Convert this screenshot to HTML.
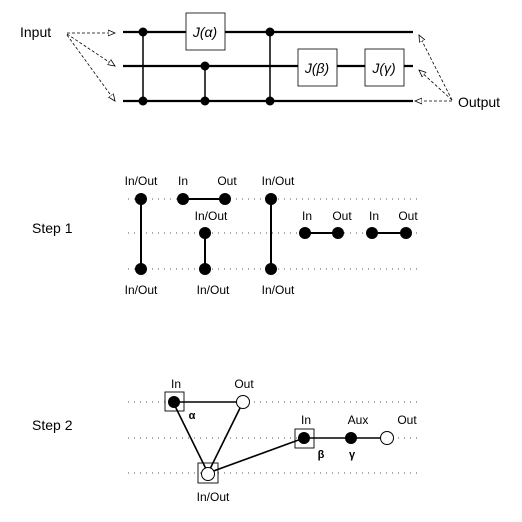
<!DOCTYPE html>
<html><head><style>body{margin:0;background:#fff}svg{display:block}</style></head><body>
<svg width="522" height="522" viewBox="0 0 522 522" xmlns="http://www.w3.org/2000/svg" font-family="Liberation Sans, sans-serif">
<defs><marker id="ar" markerWidth="8" markerHeight="8" refX="7" refY="4" orient="auto" markerUnits="userSpaceOnUse"><path d="M0,1 L7,4 L0,7 Z" fill="#fff" stroke="#000" stroke-width="0.8"/></marker></defs>
<g stroke="#000" stroke-width="2.2">
<line x1="123" y1="32" x2="413" y2="32"/><line x1="123" y1="66" x2="413" y2="66"/><line x1="123" y1="101" x2="413" y2="101"/>
<line x1="143" y1="32" x2="143" y2="101" stroke-width="1.5"/><line x1="205" y1="66" x2="205" y2="101" stroke-width="1.5"/><line x1="270" y1="32" x2="270" y2="101" stroke-width="1.5"/>
</g>
<g fill="#000"><circle cx="143" cy="32" r="4.5"/><circle cx="143" cy="101" r="4.5"/><circle cx="205" cy="66" r="4.5"/><circle cx="205" cy="101" r="4.5"/><circle cx="270" cy="32" r="4.5"/><circle cx="270" cy="101" r="4.5"/></g>
<g fill="#fff" stroke="#000" stroke-width="0.8"><rect x="186" y="13" width="39" height="37"/><rect x="298" y="49" width="39" height="37"/><rect x="365" y="49" width="39" height="37"/></g>
<g font-size="14" font-style="italic" text-anchor="middle"><text x="205" y="37">J(α)</text><text x="317" y="73">J(β)</text><text x="384" y="73">J(γ)</text></g>
<text x="20" y="37" font-size="14">Input</text><text x="458" y="107" font-size="14">Output</text>
<g stroke="#000" stroke-width="0.8" stroke-dasharray="3,2" fill="none" marker-end="url(#ar)">
<line x1="67" y1="33" x2="115" y2="33"/><line x1="67" y1="34" x2="115" y2="66"/><line x1="67" y1="35" x2="115" y2="101"/>
<line x1="452" y1="100" x2="419" y2="35"/><line x1="452" y1="100" x2="419" y2="70"/><line x1="452" y1="101" x2="415" y2="101"/>
</g>
<text x="32" y="233" font-size="14">Step 1</text>
<g stroke="#555" stroke-width="1" stroke-dasharray="1,5"><line x1="128" y1="199" x2="420" y2="199"/><line x1="128" y1="233" x2="420" y2="233"/><line x1="128" y1="269" x2="420" y2="269"/></g>
<g stroke="#000" stroke-width="2"><line x1="141" y1="199" x2="141" y2="269"/><line x1="183" y1="199" x2="225" y2="199"/><line x1="205" y1="233" x2="205" y2="269"/><line x1="271" y1="199" x2="271" y2="269"/><line x1="305" y1="233" x2="338" y2="233"/><line x1="372" y1="233" x2="406" y2="233"/></g>
<g fill="#000"><circle cx="141" cy="199" r="6"/><circle cx="141" cy="269" r="6"/><circle cx="183" cy="199" r="6"/><circle cx="225" cy="199" r="6"/><circle cx="205" cy="233" r="6"/><circle cx="205" cy="269" r="6"/><circle cx="271" cy="199" r="6"/><circle cx="271" cy="269" r="6"/><circle cx="305" cy="233" r="6"/><circle cx="338" cy="233" r="6"/><circle cx="372" cy="233" r="6"/><circle cx="406" cy="233" r="6"/></g>
<g font-size="12" text-anchor="middle"><text x="141" y="185">In/Out</text><text x="183" y="185">In</text><text x="227" y="185">Out</text><text x="278" y="185">In/Out</text><text x="211" y="220">In/Out</text><text x="307" y="220">In</text><text x="342" y="220">Out</text><text x="374" y="220">In</text><text x="408" y="220">Out</text><text x="141" y="294">In/Out</text><text x="213" y="294">In/Out</text><text x="278" y="294">In/Out</text></g>
<text x="32" y="430" font-size="14">Step 2</text>
<g stroke="#555" stroke-width="1" stroke-dasharray="1,5"><line x1="128" y1="402" x2="420" y2="402"/><line x1="128" y1="438" x2="420" y2="438"/><line x1="128" y1="473" x2="420" y2="473"/></g>
<g stroke="#000" stroke-width="1.6"><line x1="173" y1="402" x2="243" y2="402"/><line x1="173" y1="402" x2="208" y2="473"/><line x1="243" y1="402" x2="208" y2="473"/><line x1="208" y1="473" x2="304" y2="438"/><line x1="304" y1="438" x2="387" y2="438"/></g>
<g fill="none" stroke="#000" stroke-width="0.9"><rect x="165" y="392" width="19" height="19"/><rect x="198" y="463" width="20" height="20"/><rect x="295" y="429" width="19" height="19"/></g>
<g fill="#000"><circle cx="174" cy="402" r="6"/><circle cx="304" cy="438" r="6"/><circle cx="351" cy="438" r="6"/></g>
<g fill="#fff" stroke="#000" stroke-width="1"><circle cx="243" cy="402" r="6.5"/><circle cx="208" cy="474" r="6.5"/><circle cx="387" cy="438" r="6.5"/></g>
<g font-size="12" text-anchor="middle"><text x="176" y="388">In</text><text x="244" y="388">Out</text><text x="306" y="424">In</text><text x="358" y="424">Aux</text><text x="407" y="424">Out</text><text x="213" y="501">In/Out</text></g>
<g font-size="11" font-weight="bold" text-anchor="middle"><text x="192" y="419">α</text><text x="321" y="458">β</text><text x="352" y="458">γ</text></g>
</svg>
</body></html>
